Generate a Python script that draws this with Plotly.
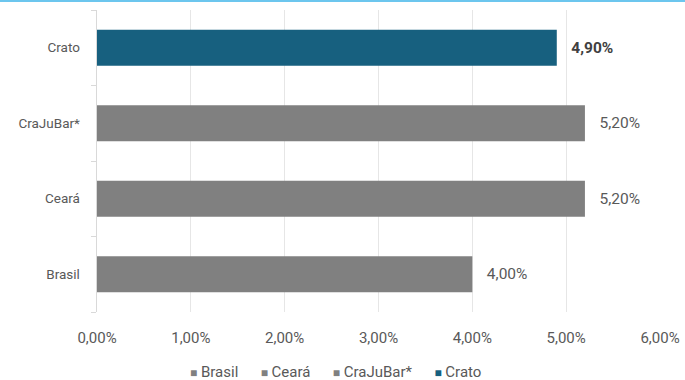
import plotly.graph_objects as go

categories = ["Brasil", "Ceará", "CraJuBar*", "Crato"]
values = [4.00, 5.20, 5.20, 4.90]
labels = ["4,00%", "5,20%", "5,20%", "4,90%"]
colors = ["#808080", "#808080", "#808080", "#17607F"]
tick_vals = [0, 1, 2, 3, 4, 5, 6]
tick_text = ["0,00%", "1,00%", "2,00%", "3,00%", "4,00%", "5,00%", "6,00%"]

fig = go.Figure()
for i, cat in enumerate(categories):
    bold = cat == "Crato"
    fig.add_trace(go.Bar(
        y=[cat], x=[values[i]], orientation="h", name=cat,
        marker=dict(color=colors[i], line=dict(width=0)),
        width=0.48,
        text=["   <b>" + labels[i] + "</b>" if bold else "   " + labels[i]],
        textposition="outside",
        textfont=dict(family="Roboto", size=15.5, color="#404040" if bold else "#595959"),
        cliponaxis=False,
        hoverinfo="skip",
    ))

legend_parts = []
for cat, col in zip(categories, colors):
    legend_parts.append(
        "<span style='color:%s;font-size:12px'>■</span>&nbsp;%s" % (col, cat))
legend_text = "&nbsp;&nbsp;&nbsp;&nbsp;&nbsp;&nbsp;".join(legend_parts)

fig.update_layout(
    width=685, height=380,
    margin=dict(l=97, r=25, t=10, b=68, autoexpand=False),
    paper_bgcolor="white", plot_bgcolor="white",
    barmode="overlay",
    font=dict(family="Roboto", size=13, color="#595959"),
    showlegend=False,
    xaxis=dict(range=[0, 6], tickvals=tick_vals, ticktext=tick_text,
               showgrid=True, gridcolor="#E6E6E6", gridwidth=1,
               zeroline=False, showline=False, automargin=False,
               ticks="outside", ticklen=12, tickcolor="rgba(0,0,0,0)",
               tickfont=dict(size=15, color="#595959")),
    yaxis=dict(categoryorder="array", categoryarray=categories,
               showline=True, linecolor="#D9D9D9", linewidth=1, automargin=False,
               ticks="outside", tickson="boundaries", ticklen=5, tickcolor="#D9D9D9",
               showgrid=False, ticksuffix="    ",
               tickfont=dict(size=13.5, color="#595959")),
    annotations=[dict(text=legend_text, xref="paper", yref="paper",
                      x=(335 - 97) / 563, y=(312 - 372) / 302,
                      xanchor="center", yanchor="middle", showarrow=False,
                      font=dict(size=15, color="#595959"))],
    shapes=[dict(type="line", xref="paper", yref="paper",
                 x0=-97/563, x1=(685-97)/563, y0=1 + 9/302, y1=1 + 9/302,
                 line=dict(color="#6CC6EE", width=2))],
)

fig.write_html("out.html", config={"displayModeBar": False},
               post_script="document.body.style.margin='0';document.body.style.overflow='hidden';")
